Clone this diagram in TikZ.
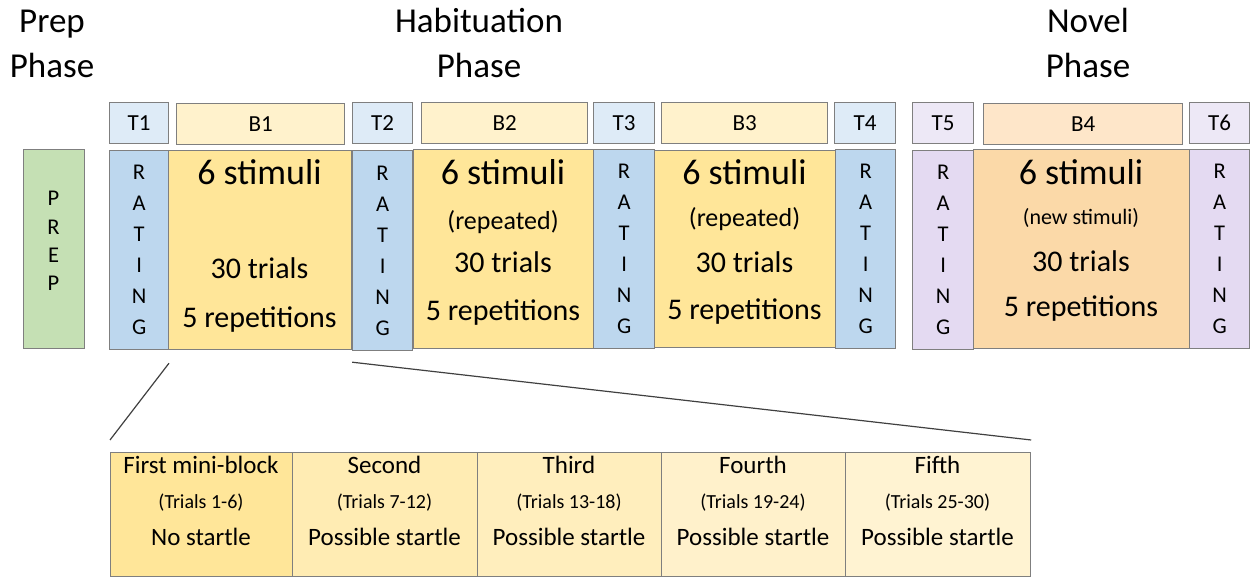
\documentclass[tikz,border=0pt]{standalone}
\usepackage{fontspec}
\setmainfont{Carlito}
\definecolor{tlab}{HTML}{DEEBF7}
\definecolor{blab}{HTML}{FFF2CC}
\definecolor{rblue}{HTML}{BDD7EE}
\definecolor{byel}{HTML}{FFE699}
\definecolor{prepg}{HTML}{C5E0B4}
\definecolor{tpur}{HTML}{EDE8F6}
\definecolor{rpur}{HTML}{E4DAF2}
\definecolor{b4lab}{HTML}{FEE6C9}
\definecolor{b4blk}{HTML}{FBD9A8}
\definecolor{mA}{HTML}{FFE699}
\definecolor{mB}{HTML}{FFECB3}
\definecolor{mC}{HTML}{FFEEBD}
\definecolor{mD}{HTML}{FFF1CB}
\definecolor{mE}{HTML}{FFF3D2}
\definecolor{edge}{HTML}{7F7F7F}
\tikzset{
  box/.style={draw=edge, line width=1.2pt, inner sep=0pt, anchor=north west},
  lab/.style={box, font=\fontsize{23}{26}\selectfont, text height=14.5pt, text depth=0pt},
  rate/.style={box, align=center, font=\fontsize{22.5}{31}\selectfont},
  title/.style={anchor=base, font=\fontsize{35}{40}\selectfont, inner sep=0pt},
  big/.style={anchor=base, font=\fontsize{36}{40}\selectfont, inner sep=0pt},
  mid/.style={anchor=base, font=\fontsize{30}{34}\selectfont, inner sep=0pt},
  small/.style={anchor=base, font=\fontsize{#1}{30}\selectfont, inner sep=0pt},
  mini/.style={box, minimum height=124pt},
  mtext/.style={anchor=base, font=\fontsize{25}{30}\selectfont, inner sep=0pt},
  zoomline/.style={draw=black!75, line width=1.2pt}
}
\begin{document}
\begin{tikzpicture}[x=1pt,y=-1pt]
\useasboundingbox (0,0) rectangle (1256,577);
% titles
\node[title] (tp1) at (52,33) {Prep};
\node[title] (tp2) at (52,78) {Phase};
\node[title] (th1) at (479,33) {Habituation};
\node[title] (th2) at (479,78) {Phase};
\node[title] (tn1) at (1088,33) {Novel};
\node[title] (tn2) at (1088,78) {Phase};
% top labels
\node[lab, fill=tlab, minimum width=59pt, minimum height=41pt] (T1) at (109,102) {T1};
\node[lab, fill=blab, minimum width=168pt, minimum height=41pt] (B1) at (176,103) {B1};
\node[lab, fill=tlab, minimum width=60pt, minimum height=41pt] (T2) at (352,102) {T2};
\node[lab, fill=blab, minimum width=166pt, minimum height=41pt] (B2) at (421,102) {B2};
\node[lab, fill=tlab, minimum width=61pt, minimum height=41pt] (T3) at (593,102) {T3};
\node[lab, fill=blab, minimum width=166pt, minimum height=41pt] (B3) at (661,102) {B3};
\node[lab, fill=tlab, minimum width=61pt, minimum height=41pt] (T4) at (834,102) {T4};
\node[lab, fill=tpur, minimum width=61pt, minimum height=41pt] (T5) at (912,102) {T5};
\node[lab, fill=b4lab, minimum width=199pt, minimum height=41pt] (B4) at (983,103) {B4};
\node[lab, fill=tpur, minimum width=60pt, minimum height=41pt] (T6) at (1189,102) {T6};
% prep
\node[box, fill=prepg, minimum width=61pt, minimum height=199pt] (prep) at (23,149) {};
\node[align=center, font=\fontsize{22.5}{28.3}\selectfont, inner sep=0pt] (prept) at (53.5,241) {P\\R\\E\\P};
% main blocks
\node[box, fill=byel, minimum width=183pt, minimum height=199pt] (blk1) at (168,150) {};
\node[box, fill=byel, minimum width=180pt, minimum height=199pt] (blk2) at (413,149) {};
\node[box, fill=byel, minimum width=181pt, minimum height=197pt] (blk3) at (654,150) {};
\node[box, fill=b4blk, minimum width=216pt, minimum height=199pt] (blk4) at (973,149) {};
% ratings
\node[rate, fill=rblue, minimum width=59pt, minimum height=199pt] (R1) at (109,150) {R\\A\\T\\I\\N\\G};
\node[rate, fill=rblue, minimum width=60pt, minimum height=200pt] (R2) at (352,150) {R\\A\\T\\I\\N\\G};
\node[rate, fill=rblue, minimum width=61pt, minimum height=199pt] (R3) at (593,149) {R\\A\\T\\I\\N\\G};
\node[rate, fill=rblue, minimum width=60pt, minimum height=199pt] (R4) at (835,149) {R\\A\\T\\I\\N\\G};
\node[rate, fill=rpur, minimum width=61pt, minimum height=199pt] (R5) at (912,150) {R\\A\\T\\I\\N\\G};
\node[rate, fill=rpur, minimum width=60pt, minimum height=199pt] (R6) at (1189,149) {R\\A\\T\\I\\N\\G};
% block texts
\node[big] (s1) at (259.5,185) {6 stimuli};
\node[mid] (s1b) at (259.5,279) {30 trials};
\node[mid] (s1c) at (259.5,327) {5 repetitions};
\node[big] (s2) at (503,185) {6 stimuli};
\node[small=26] (s2a) at (503,229.5) {(repeated)};
\node[mid] (s2b) at (503,273) {30 trials};
\node[mid] (s2c) at (503,321) {5 repetitions};
\node[big] (s3) at (744.5,185) {6 stimuli};
\node[small=26] (s3a) at (744.5,226.5) {(repeated)};
\node[mid] (s3b) at (744.5,273) {30 trials};
\node[mid] (s3c) at (744.5,320) {5 repetitions};
\node[big] (s4) at (1081,185) {6 stimuli};
\node[small=22] (s4a) at (1081,225) {(new stimuli)};
\node[mid] (s4b) at (1081,272) {30 trials};
\node[mid] (s4c) at (1081,317) {5 repetitions};
% mini blocks
\node[mini, fill=mA, minimum width=182pt] (m1) at (110,452) {};
\node[mini, fill=mB, minimum width=185pt] (m2) at (292,452) {};
\node[mini, fill=mC, minimum width=184pt] (m3) at (477,452) {};
\node[mini, fill=mD, minimum width=184pt] (m4) at (661,452) {};
\node[mini, fill=mE, minimum width=185pt] (m5) at (845,452) {};
\node[mtext] (m1a) at (201,473.5) {First mini-block};
\node[small=20] (m1b) at (201,508) {(Trials 1-6)};
\node[mtext] (m1c) at (201,545) {No startle};
\node[mtext] (m2a) at (384.5,473.5) {Second};
\node[small=20] (m2b) at (384.5,508) {(Trials 7-12)};
\node[mtext] (m2c) at (384.5,545) {Possible startle};
\node[mtext] (m3a) at (569,473.5) {Third};
\node[small=20] (m3b) at (569,508) {(Trials 13-18)};
\node[mtext] (m3c) at (569,545) {Possible startle};
\node[mtext] (m4a) at (753,473.5) {Fourth};
\node[small=20] (m4b) at (753,508) {(Trials 19-24)};
\node[mtext] (m4c) at (753,545) {Possible startle};
\node[mtext] (m5a) at (937.5,473.5) {Fifth};
\node[small=20] (m5b) at (937.5,508) {(Trials 25-30)};
\node[mtext] (m5c) at (937.5,545) {Possible startle};
% zoom lines
\draw[zoomline] ([xshift=1pt,yshift=-13pt]blk1.south west) -- ([yshift=12pt]m1.north west);
\draw[zoomline] ([yshift=-12pt]blk1.south east) -- ([yshift=12pt]m5.north east);
\end{tikzpicture}
\end{document}
